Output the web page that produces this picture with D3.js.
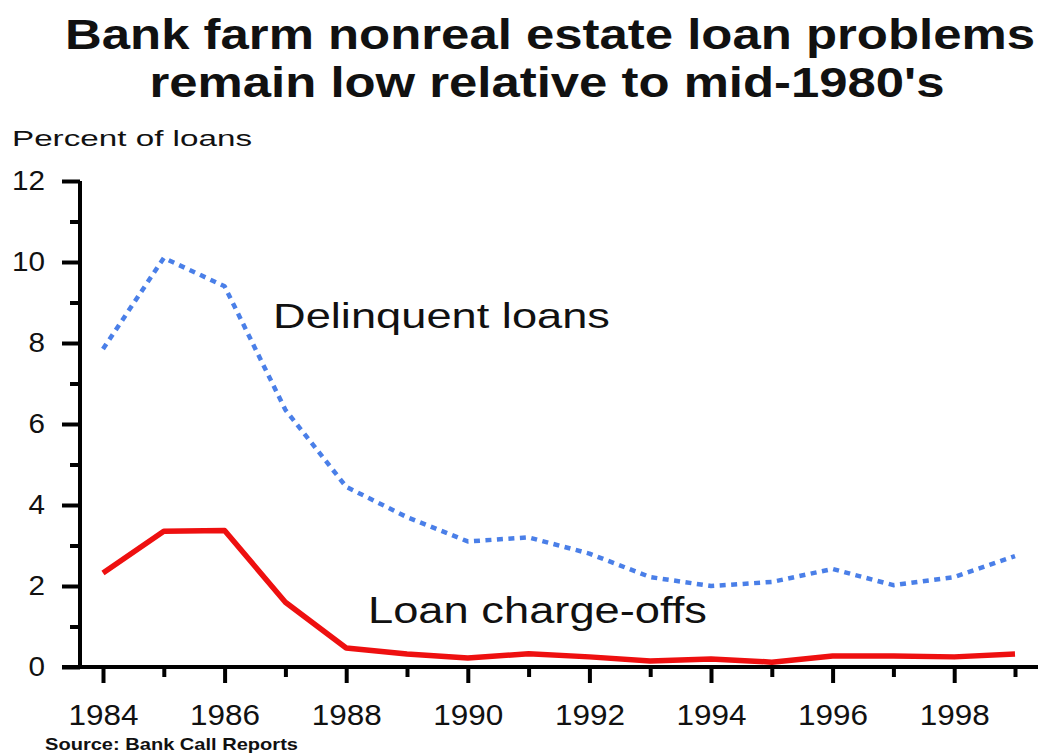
<!DOCTYPE html>
<html>
<head>
<meta charset="utf-8">
<script src="https://cdn.jsdelivr.net/npm/d3@7"></script>
<style>
  html, body { margin: 0; padding: 0; background: #ffffff; }
  svg { display: block; }
  text { font-family: "Liberation Sans", Arial, sans-serif; fill: #111; }
</style>
</head>
<body>
<svg id="chart" width="1042" height="754"></svg>
<script>
// Years on the horizontal axis
const years = d3.range(1984, 2000);
// Delinquent nonreal estate farm loans, percent of loans
const delinquent = [7.85, 10.1, 9.4, 6.35, 4.45, 3.7, 3.1, 3.2, 2.8, 2.22, 2.0, 2.1, 2.42, 2.02, 2.22, 2.74];
// Net charge-offs, percent of loans
const chargeOffs = [2.32, 3.35, 3.37, 1.6, 0.47, 0.32, 0.22, 0.33, 0.25, 0.15, 0.2, 0.12, 0.27, 0.27, 0.25, 0.32];
// Tick values
const yTicks = d3.range(0, 13);
const xTicks = years;

const titleLines = ["Bank farm nonreal estate loan problems", "remain low relative to mid-1980's"];

const svg = d3.select("#chart");

const x = d3.scaleLinear().domain([1984, 1999]).range([103, 1015]);
const y = d3.scaleLinear().domain([0, 12]).range([667, 181]);

// Title
svg.append("text").attr("x", 550).attr("y", 49).attr("text-anchor", "middle")
  .attr("font-size", 43).attr("font-weight", "bold")
  .attr("textLength", 970).attr("lengthAdjust", "spacingAndGlyphs")
  .text(titleLines[0]);
svg.append("text").attr("x", 547).attr("y", 97).attr("text-anchor", "middle")
  .attr("font-size", 43).attr("font-weight", "bold")
  .attr("textLength", 795).attr("lengthAdjust", "spacingAndGlyphs")
  .text(titleLines[1]);

// Units label
svg.append("text").attr("x", 12).attr("y", 146)
  .attr("font-size", 22.5)
  .attr("textLength", 240).attr("lengthAdjust", "spacingAndGlyphs")
  .text("Percent of loans");

// Y axis
const yAxis = svg.append("g").attr("transform", "translate(80,0)")
  .call(d3.axisLeft(y).tickValues(yTicks).tickSize(18).tickPadding(17)
    .tickFormat(d => d % 2 === 0 ? d : ""));
yAxis.select(".domain").attr("stroke", "#000").attr("stroke-width", 4)
  .attr("d", `M0,${y(12)}V${y(0)}`);
yAxis.selectAll(".tick line").attr("stroke", "#000").attr("stroke-width", 4)
  .attr("x2", d => d % 2 === 0 ? -18 : -10);
yAxis.selectAll(".tick text")
  .attr("font-size", 27).attr("fill", "#111")
  .attr("font-family", "'Liberation Sans', Arial, sans-serif")
  .attr("textLength", d => String(d).length * 16.5)
  .attr("lengthAdjust", "spacingAndGlyphs");

// X axis
const xAxis = svg.append("g").attr("transform", `translate(0,${y(0)})`)
  .call(d3.axisBottom(x).tickValues(xTicks).tickSize(16).tickPadding(21)
    .tickFormat(d => d % 2 === 0 ? d : ""));
xAxis.select(".domain").remove();
xAxis.append("line").attr("x1", 62).attr("x2", 1038).attr("y1", 0).attr("y2", 0)
  .attr("stroke", "#000").attr("stroke-width", 4);
xAxis.selectAll(".tick line").attr("stroke", "#000").attr("stroke-width", 4)
  .attr("y2", d => d % 2 === 0 ? 16 : 10);
xAxis.selectAll(".tick text")
  .attr("font-size", 29).attr("fill", "#111")
  .attr("font-family", "'Liberation Sans', Arial, sans-serif")
  .attr("textLength", 70).attr("lengthAdjust", "spacingAndGlyphs");

// Series lines
const line = d3.line().x((d, i) => x(years[i])).y(d => y(d));

svg.append("path").datum(delinquent)
  .attr("d", line)
  .attr("fill", "none")
  .attr("stroke", "#4a7fe8")
  .attr("stroke-width", 4.5)
  .attr("stroke-dasharray", "6 5.5")
  .attr("stroke-linejoin", "round");

svg.append("path").datum(chargeOffs)
  .attr("d", line)
  .attr("fill", "none")
  .attr("stroke", "#ee1010")
  .attr("stroke-width", 5.5)
  .attr("stroke-linejoin", "round");

// Series labels
svg.append("text").attr("x", 273).attr("y", 328)
  .attr("font-size", 35)
  .attr("textLength", 337).attr("lengthAdjust", "spacingAndGlyphs")
  .text("Delinquent loans");
svg.append("text").attr("x", 368).attr("y", 623)
  .attr("font-size", 36)
  .attr("textLength", 339).attr("lengthAdjust", "spacingAndGlyphs")
  .text("Loan charge-offs");

// Source note
svg.append("text").attr("x", 45).attr("y", 750)
  .attr("font-size", 17).attr("font-weight", "bold")
  .attr("textLength", 253).attr("lengthAdjust", "spacingAndGlyphs")
  .text("Source: Bank Call Reports");
</script>
</body>
</html>
